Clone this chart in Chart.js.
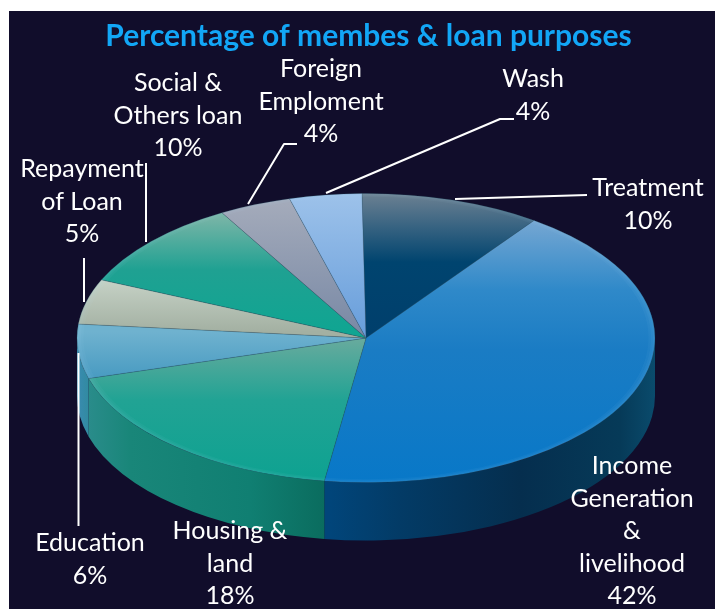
<!DOCTYPE html>
<html><head><meta charset="utf-8">
<style>html,body{margin:0;padding:0;background:#fff;overflow:hidden}canvas{display:block}</style>
<script src="https://cdn.jsdelivr.net/npm/chart.js@4"></script>
</head><body><canvas id="c" width="715" height="609"></canvas>
<script>
const titleText = "Percentage of membes & loan purposes";
const categories = ["Treatment","Income Generation & livelihood","Housing & land","Education","Repayment of Loan","Social & Others loan","Foreign Emploment","Wash"];
const values = [10,42,18,6,5,10,4,4];
const labelLines = [["Treatment","10%"],["Income","Generation","&","livelihood","42%"],["Housing &","land","18%"],["Education","6%"],["Repayment","of Loan","5%"],["Social &","Others loan","10%"],["Foreign","Emploment","4%"],["Wash","4%"]];

// styling and layout
const labelPos = [[648,188],[632,466],[230,531],[90,543],[82,169],[178,83],[321,69],[533,79]];
const leaders = [[[326,193],[500,119],[514,119]],[[248,204],[284,144],[297,144]],[[455,199],[587,195]],[[146,163],[146,242]],[[84,258],[84,302]],[[78.5,353],[78.5,526]]];
const topGrad = [
 [[194,"#6b8092"],[262,"#00446f"],[334,"#003f6c"]],
 [[222,"#74a6d2"],[290,"#2f89c9"],[350,"#1a7cc4"],[484,"#0878c8"]],
 [[335,"#6cab9e"],[400,"#21a394"],[484,"#0da291"]],
 [[332,"#6fb2cf"],[376,"#4a9cc2"]],
 [[282,"#c4d0c4"],[332,"#a3b0a2"]],
 [[218,"#76b4a6"],[270,"#1fa192"],[330,"#10a592"]],
 [[204,"#a3aaba"],[330,"#7a8aa6"]],
 [[194,"#9dc2ea"],[334,"#689edb"]]
];
const wallGrad = {
 1:[[330,"#01457a"],[400,"#033b66"],[520,"#052e4e"],[620,"#063a58"],[655,"#0a4b6c"]],
 2:[[80,"#2d8d8e"],[130,"#198679"],[250,"#107f72"],[330,"#0a6b5d"]],
 3:[[76,"#3b8bb2"],[95,"#2c8a99"]]
};
const CX = 366, CY = 338, RX = 289, SQUASH = 0.5, DEPTH = 58;

const toChartY = (chart, y) => {
  const a = chart.chartArea;
  return (a.top + a.bottom) / 2 + (y - CY) / SQUASH;
};
const sliceFill = (c) => {
  const chart = c.chart, stops = topGrad[c.dataIndex];
  if (!chart.chartArea) return stops[0][1];
  const y0 = stops[0][0], y1 = stops[stops.length - 1][0];
  const g = chart.ctx.createLinearGradient(0, toChartY(chart, y0), 0, toChartY(chart, y1));
  stops.forEach(s => g.addColorStop((s[0] - y0) / (y1 - y0), s[1]));
  return g;
};

const pie3d = {
  id: "pie3d",
  beforeDraw(chart) {
    const ctx = chart.ctx;
    ctx.save();
    ctx.fillStyle = "#110d2b";
    ctx.fillRect(9, 11, chart.width - 9, chart.height - 11);
    ctx.restore();
  },
  beforeDatasetsDraw(chart) {
    const ctx = chart.ctx, arcs = chart.getDatasetMeta(0).data;
    const norm = a => { while (a < -Math.PI / 2 - 0.1) a += Math.PI * 2; return a; };
    arcs.forEach((el, i) => {
      const st = wallGrad[i];
      if (!st) return;
      const p = el.getProps(["startAngle", "endAngle", "outerRadius"], true);
      const a0 = Math.max(norm(p.startAngle), 0), a1 = Math.min(norm(p.endAngle), Math.PI);
      if (a1 <= a0) return;
      const x0 = st[0][0], x1 = st[st.length - 1][0];
      const g = ctx.createLinearGradient(x0, 0, x1, 0);
      st.forEach(s => g.addColorStop((s[0] - x0) / (x1 - x0), s[1]));
      ctx.save();
      ctx.fillStyle = g;
      ctx.beginPath();
      ctx.ellipse(CX, CY, p.outerRadius, p.outerRadius * SQUASH, 0, a0, a1);
      ctx.ellipse(CX, CY + DEPTH, p.outerRadius, p.outerRadius * SQUASH, 0, a1, a0, true);
      ctx.closePath();
      ctx.fill();
      ctx.restore();
    });
    const e = arcs[0];
    ctx.save();
    ctx.translate(CX, CY);
    ctx.scale(1, SQUASH);
    ctx.translate(-e.x, -e.y);
  },
  afterDatasetsDraw(chart) {
    const ctx = chart.ctx, e = chart.getDatasetMeta(0).data[0];
    ctx.save();
    ctx.beginPath();
    ctx.arc(e.x, e.y, e.outerRadius, 0, Math.PI * 2);
    ctx.clip();
    [4, 8, 13].forEach(w => {
      ctx.lineWidth = w;
      ctx.strokeStyle = "rgba(190,225,255,0.045)";
      ctx.stroke();
    });
    ctx.restore();
    ctx.restore();
  },
  afterDraw(chart) {
    const ctx = chart.ctx;
    ctx.save();
    ctx.strokeStyle = "#ffffff";
    ctx.lineWidth = 2;
    ctx.lineJoin = "round";
    leaders.forEach(l => {
      ctx.beginPath();
      l.forEach((p, i) => i ? ctx.lineTo(p[0], p[1]) : ctx.moveTo(p[0], p[1]));
      ctx.stroke();
    });
    ctx.fillStyle = "#ffffff";
    ctx.font = "25px Lato";
    ctx.textAlign = "center";
    ctx.textBaseline = "middle";
    labelLines.forEach((lines, i) => {
      lines.forEach((t, k) => ctx.fillText(t, labelPos[i][0], labelPos[i][1] + k * 32.6));
    });
    ctx.restore();
  }
};

new Chart(document.getElementById("c"), {
  type: "pie",
  plugins: [pie3d],
  data: {
    labels: categories,
    datasets: [{
      data: values,
      backgroundColor: sliceFill,
      borderWidth: 1,
      borderColor: "rgba(35,80,95,0.35)",
      radius: RX,
      clip: false
    }]
  },
  options: {
    responsive: false,
    animation: false,
    rotation: -0.8,
    layout: { padding: { left: 22, right: 0, top: 18, bottom: 0 } },
    plugins: {
      legend: { display: false },
      tooltip: { enabled: false },
      title: {
        display: true,
        text: titleText,
        color: "#12a6f6",
        font: { family: "Lato", size: 30, weight: "bold" },
        padding: { top: 0, bottom: 0 }
      }
    }
  }
});
</script></body></html>
